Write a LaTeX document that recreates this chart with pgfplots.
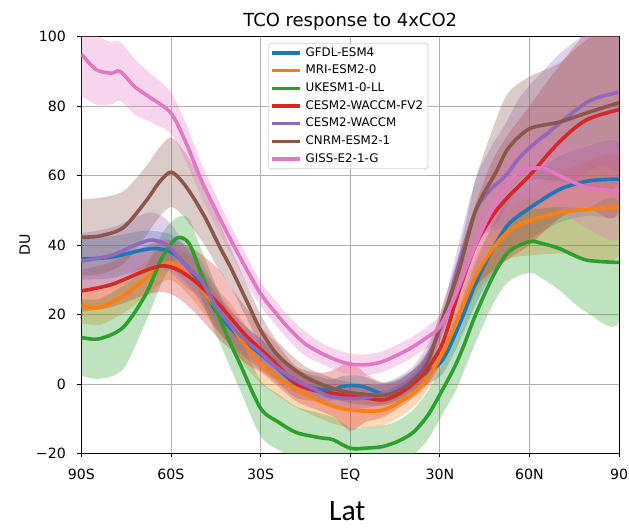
\documentclass[border=0pt]{standalone}
\usepackage{pgfplots}
\pgfplotsset{compat=1.18}
\usepackage{pgfplotstable}
\usepackage{fontspec}
\setmainfont{DejaVu Sans}
\newfontfamily\latfont{Carlito}

\definecolor{c0}{HTML}{1F77B4}
\definecolor{c1}{HTML}{FF7F0E}
\definecolor{c2}{HTML}{2CA02C}
\definecolor{c3}{HTML}{D62728}
\definecolor{c4}{HTML}{9467BD}
\definecolor{c5}{HTML}{8C564B}
\definecolor{c6}{HTML}{E377C2}
\definecolor{gridc}{HTML}{B0B0B0}

% lat, ensemble mean (DU), half width of the shaded spread
\pgfplotstableread{
lat m h
-90 36 6
-80 36.5 6
-70 38.5 5.5
-65 39 5
-60 38 5
-57 36 5
-52 31 5
-47 24 5
-45 21 5
-40 16 5
-35 12 4.5
-30 8.6 4.5
-25 5 4
-18 0 4
-10 -1.5 3.5
-6 -1.7 3
-3 -0.8 3
0 -0.5 3
4 -0.7 3
8 -2 3
11 -2.8 3
16 -1.5 3
21 1 3
26 3.5 3.5
31 7 4
36.5 17 5
42 29 6
47.8 39 7
53 46 8
60 50.6 9
70 56 9.5
80 58.5 10
90 59 10
}\gfdl

\pgfplotstableread{
lat m h
-90 22.6 5
-84 22 5
-76 25.4 5
-68 30.6 5
-62 34.8 5
-58 34 5
-52 29.6 6
-44 21 6
-40 17 6
-35 11 6
-29 5 5.5
-18 -1.7 5
-7 -6 5
0 -7.5 5
11 -7.5 4.5
21 -2.8 4
26 2 3.5
31 9 3.5
36.5 20 4
42 31 5
47.8 39 7
53 44 8
60 47 10
72 49.6 12
90 51 14
}\mri

\pgfplotstableread{
lat m h
-90 13.4 11
-84 13 11.5
-76 16.3 12
-68.5 25.7 8
-63 36.3 7
-58 42 6
-54 40.5 7
-50 32 7
-45 21.5 7
-40 11.5 7
-37 6 7.5
-30 -7 8
-24 -11 8
-18 -14 7.5
-10 -15.5 7
-6 -16 6.5
0 -18.5 6
5 -18.5 6
11 -18 6
16 -16.5 6
21 -14 6.5
26 -9 7
31 -1.5 7
35 5 7.5
38 11 7.5
42 20 8
47.8 31 8
53 38 8.5
60 41 9
64 40.5 10
70 39 12
79 35.7 15
90 35 17
}\ukesm

\pgfplotstableread{
lat m h
-90 26.8 6
-80 28.6 6.5
-69 32.5 7
-63 34 7.5
-58 33 8
-52 29.6 9
-44 23 10
-40 19 9
-35 14 8
-30 10 6.5
-25 6 6
-18 0 5
-10 -2.3 5.5
-5 -2.8 7
0 -3.5 10
5 -4 7
11 -4.6 5
16 -3 4
21 0 4
26 4.5 4.5
31 12 5
36.5 27 8
42 40 12
47.8 48.6 16
53 54 18
60 60 20
70 69.7 22
79 76 25
90 79 28
}\fvtwo

\pgfplotstableread{
lat m h
-90 35.4 8
-80 37 8
-72 40 8
-67 41.4 8
-63 40.8 7.5
-60 39 7
-55 34 6
-50 30 5.5
-45 22.5 5
-40 17 4.5
-35 12.5 4
-30 9 4
-25 5 3.5
-18 1 3.5
-12 -1.5 3
-6.6 -3.7 3
0 -4.2 3
5 -4 3
11 -2.8 3
16 -1 3
21 2 3
26 8 3.5
31 18 4
36.5 35 6
42 50 9
47 56 12
52 60 15
56 64.5 17
60 68 18
65 71.5 19
70 75 20
75 78.5 20
80 81.5 20
85 83 20
90 84 20
}\waccm

\pgfplotstableread{
lat m h
-90 42.3 11
-84 42.6 11
-76 45 10.5
-68.5 52.5 10
-64 58 10
-60 61 10
-56 58 9.5
-52 53 9
-48 47 8
-44 40 7
-40 33.5 5.5
-35 24.5 5
-30 15.5 4.5
-25 9 4
-20 5 3.5
-15 2 3
-10 0 3
-5 -1.5 3
0 -2.5 3
5 -3 3
11 -3.3 3
16 -2 3
21 1 3
26 6.5 3.5
31 19 4
36.5 33 5
42 50 9
48.8 61 15
53 68 16
60 73.5 15
70 75.4 17
79 78 21
90 81 22
}\cnrm

\pgfplotstableread{
lat m h
-90 95 12
-85 90.5 10
-80 89.5 9
-77 90 8.5
-72 85.5 8
-67 82.5 7
-60 78 6
-55 69.5 5.5
-50 59 5
-45 50 4.5
-40 41.5 4
-35 33.5 4
-30 26 3.5
-25 20.5 3.5
-20 15.5 3.5
-15 11.5 3.5
-10 9 3
-5 7 3
0 5.7 3
5 5.5 3
10 6.2 3
15 8 3
20 10.2 3
25 13 3
30 16.5 3.5
35 25 4
40 36 5
45 46 6
50 54 7
55 60 8
60 62 8.5
65 62 9
70 60 10
75 58 11
80 56.5 12
90 55.3 13
}\giss

% closed outline of the spread: upper edge south to north, lower edge back
\newcommand{\mkband}[2]{%
  \pgfplotstablesort[sort key=lat, sort cmp=float >]{\tmprev}{#1}%
  \pgfplotstablecreatecol[expr={\thisrow{m}-\thisrow{h}}]{b}{\tmprev}%
  \pgfplotstablesort[sort key=lat, sort cmp=float <]{#2}{#1}%
  \pgfplotstablecreatecol[expr={\thisrow{m}+\thisrow{h}}]{b}{#2}%
  \pgfplotstablevertcat{#2}{\tmprev}%
}
\mkband{\gfdl}{\gfdlband}
\mkband{\mri}{\mriband}
\mkband{\ukesm}{\ukesmband}
\mkband{\fvtwo}{\fvtwoband}
\mkband{\waccm}{\waccmband}
\mkband{\cnrm}{\cnrmband}
\mkband{\giss}{\gissband}

\begin{document}
\begin{tikzpicture}
\useasboundingbox (-82bp,-76bp) rectangle (552bp,457bp);
\begin{axis}[
  at={(0,0)}, anchor=south west,
  scale only axis, width=542bp, height=420bp,
  xmin=-90, xmax=90, ymin=-20, ymax=100,
  xtick={-90,-60,-30,0,30,60,90},
  xticklabels={90S,60S,30S,EQ,30N,60N,90},
  ytick={-20,0,20,40,60,80,100},
  yticklabels={−20,0,20,40,60,80,100},
  xtick pos=lower, ytick pos=left,
  tick align=outside, major tick length=4bp,
  tick style={black, line width=0.8bp},
  axis line style={line width=0.8bp},
  grid=major, grid style={gridc, line width=0.8bp},
  tick label style={font=\fontsize{14.3}{17}\selectfont, inner sep=0pt},
  xticklabel style={anchor=north, yshift=-11.5bp},
  yticklabel style={anchor=east, xshift=-11.5bp},
  ylabel={DU},
  ylabel style={font=\fontsize{14.3}{17}\selectfont},
  every axis y label/.append style={at={(axis description cs:-0.105,0.5)}, anchor=center},
  legend style={at={(axis description cs:0.347,0.985)}, anchor=north west,
    font=\fontsize{12}{14}\selectfont, draw=gray!35, rounded corners=2bp,
    fill=white, fill opacity=0.8, text opacity=1, line width=0.8bp,
    row sep=2.3bp, inner xsep=1.5bp, inner ysep=2bp,
    nodes={inner xsep=3.5bp, inner ysep=2bp, text height=9bp, text depth=2.5bp}},
  legend cell align=left,
  legend image code/.code={\draw[#1, line width=3.6bp] (0bp,0bp) -- (29bp,0bp);},
  every axis plot/.append style={line join=round},
]
\addplot[fill=c0, fill opacity=0.3, draw=none, smooth, forget plot] table[x=lat, y=b] {\gfdlband};
\addplot[fill=c1, fill opacity=0.3, draw=none, smooth, forget plot] table[x=lat, y=b] {\mriband};
\addplot[fill=c2, fill opacity=0.3, draw=none, smooth, forget plot] table[x=lat, y=b] {\ukesmband};
\addplot[fill=c3, fill opacity=0.3, draw=none, smooth, forget plot] table[x=lat, y=b] {\fvtwoband};
\addplot[fill=c4, fill opacity=0.3, draw=none, smooth, forget plot] table[x=lat, y=b] {\waccmband};
\addplot[fill=c5, fill opacity=0.3, draw=none, smooth, forget plot] table[x=lat, y=b] {\cnrmband};
\addplot[fill=c6, fill opacity=0.3, draw=none, smooth, forget plot] table[x=lat, y=b] {\gissband};

\addplot[c0, line width=3.6bp, smooth] table[x=lat, y=m] {\gfdl};
\addplot[c1, line width=3.6bp, smooth] table[x=lat, y=m] {\mri};
\addplot[c2, line width=3.6bp, smooth] table[x=lat, y=m] {\ukesm};
\addplot[c3, line width=3.6bp, smooth] table[x=lat, y=m] {\fvtwo};
\addplot[c4, line width=3.6bp, smooth] table[x=lat, y=m] {\waccm};
\addplot[c5, line width=3.6bp, smooth] table[x=lat, y=m] {\cnrm};
\addplot[c6, line width=3.6bp, smooth] table[x=lat, y=m] {\giss};
\legend{GFDL-ESM4, MRI-ESM2-0, UKESM1-0-LL, CESM2-WACCM-FV2, CESM2-WACCM, CNRM-ESM2-1, GISS-E2-1-G}
\end{axis}
\node[anchor=base, font=\fontsize{18.2}{21}\selectfont] at (271bp,430bp) {TCO response to 4xCO2};
\node[anchor=base, font=\latfont\fontsize{30}{34}\selectfont, inner sep=0pt] at (268bp,-68bp) {Lat};
\end{tikzpicture}
\end{document}
